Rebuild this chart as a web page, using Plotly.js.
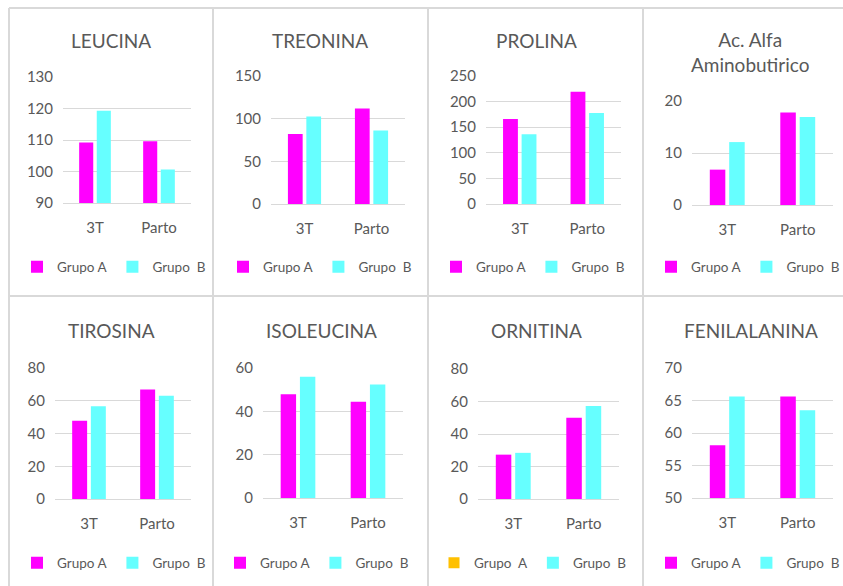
<!DOCTYPE html>
<html>
<head>
<meta charset="utf-8">
<script src="https://cdn.plot.ly/plotly-3.0.1.min.js"></script>
<style>html,body{margin:0;padding:0;background:#fff;}#chart{width:843px;height:586px;}</style>
</head>
<body>
<div id="chart"></div>
<script>
// ---- data ----
const categories = ["3T", "Parto"];
const panelTitles = ["LEUCINA", "TREONINA", "PROLINA", "Ac. Alfa<br>Aminobutirico",
                     "TIROSINA", "ISOLEUCINA", "ORNITINA", "FENILALANINA"];
const grupoA = {
  leucina: [109.2, 109.6],
  treonina: [82, 112],
  prolina: [166, 219],
  alfaAmino: [6.8, 17.8],
  tirosina: [47.8, 66.8],
  isoleucina: [47.9, 44.4],
  ornitina: [27.3, 50],
  fenilalanina: [58.1, 65.6]
};
const grupoB = {
  leucina: [119.3, 100.6],
  treonina: [102.5, 86],
  prolina: [136, 177.5],
  alfaAmino: [12.1, 16.9],
  tirosina: [56.6, 63.1],
  isoleucina: [56, 52.4],
  ornitina: [28.4, 57.3],
  fenilalanina: [65.6, 63.5]
};
const keys = ["leucina","treonina","prolina","alfaAmino","tirosina","isoleucina","ornitina","fenilalanina"];
const yRanges = [[90,130],[0,150],[0,250],[0,20],[0,80],[0,60],[0,80],[50,70]];
const yDticks = [10,50,50,10,20,20,20,5];
const nameA = "Grupo A";
const nameB = "Grupo\u00a0 B";
const nameAOrn = "Grupo\u00a0 A";

// ---- layout geometry (pixels) ----
const W = 843, H = 586;
const plotBoxes = [
  [63,191,77,203],[271,405,76,204],[486,621,76,204],[692,833,101,205],
  [55,191,368,499],[263,403,368,498],[478,619,369,499],[692,833,368,498]
];
const titlePos = [[111,40],[320,40],[536,40],[750,52],[111,330],[321,330],[536,330],[751,330]];
const legendPos = [[17,267],[223,267],[436,267],[651,267],[17,563],[220,563],[434,563],[651,563]];

const magenta = "#FF00FF", cyan = "#66FFFF", orange = "#FFC000";
const grey = "#595959", gridc = "#D9D9D9";
const fontFam = "Lato, 'Open Sans', sans-serif";

const traces = [];
const layout = {
  width: W, height: H,
  margin: {l:0,r:0,t:0,b:0, autoexpand: false},
  paper_bgcolor: "#FFFFFF", plot_bgcolor: "#FFFFFF",
  barmode: "group", bargap: 0.45, bargroupgap: 0.2,
  font: {family: fontFam, color: grey, size: 13},
  annotations: [], shapes: []
};

keys.forEach((k, i) => {
  const n = i + 1;
  const sx = n === 1 ? "" : String(n);
  const xa = "x" + sx, ya = "y" + sx;
  const lg = n === 1 ? "legend" : "legend" + n;
  const isOrn = k === "ornitina";
  traces.push({type:"bar", x: categories, y: grupoA[k], name: nameA,
    marker:{color: magenta}, xaxis: xa, yaxis: ya, legend: lg,
    showlegend: !isOrn, hoverinfo:"y"});
  if (isOrn) {
    // legend-only entry: the source chart shows an orange key for Grupo A here
    traces.push({type:"scatter", mode:"markers", x: categories, y: [null, null], name: nameAOrn,
      marker:{color: orange, symbol:"square", size: 11}, xaxis: xa, yaxis: ya, legend: lg,
      showlegend: true, hoverinfo:"skip"});
  }
  traces.push({type:"bar", x: categories, y: grupoB[k], name: nameB,
    marker:{color: cyan}, xaxis: xa, yaxis: ya, legend: lg, hoverinfo:"y"});

  const b = plotBoxes[i];
  layout["xaxis" + sx] = {
    domain: [b[0]/W, b[1]/W], anchor: ya, type: "category",
    showgrid: false, zeroline: false, showline: true, linecolor: gridc, linewidth: 1,
    ticks: "", tickfont: {size: 15, color: grey, family: fontFam}, ticklabelstandoff: 11,
    fixedrange: true
  };
  layout["yaxis" + sx] = {
    domain: [1 - b[3]/H, 1 - b[2]/H], anchor: xa,
    range: yRanges[i], dtick: yDticks[i], tick0: 0,
    showgrid: true, gridcolor: gridc, gridwidth: 1, zeroline: false, showline: false,
    ticks: "", tickfont: {size: 15, color: grey, family: fontFam}, ticklabelstandoff: 9,
    fixedrange: true
  };
  layout[lg] = {
    orientation: "h", x: legendPos[i][0]/W, y: 1 - legendPos[i][1]/H,
    xanchor: "left", yanchor: "middle", bgcolor: "rgba(0,0,0,0)",
    font: {size: 13.5, color: grey, family: fontFam}, itemwidth: 30, tracegroupgap: 0
  };
  layout.annotations.push({
    text: panelTitles[i], xref: "paper", yref: "paper",
    x: titlePos[i][0]/W, y: 1 - titlePos[i][1]/H, xanchor: "center", yanchor: "middle",
    showarrow: false, font: {size: 19, color: grey, family: fontFam}
  });
});

// panel frames
const vlines = [9, 213, 428, 643];
const hlines = [8, 296];
vlines.forEach(x => layout.shapes.push({type:"line", xref:"paper", yref:"paper",
  x0: x/W, x1: x/W, y0: 0, y1: 1 - 8/H, line:{color: gridc, width: 2}}));
hlines.forEach(y => layout.shapes.push({type:"line", xref:"paper", yref:"paper",
  x0: 9/W, x1: 1, y0: 1 - y/H, y1: 1 - y/H, line:{color: gridc, width: 2}}));

Plotly.newPlot("chart", traces, layout, {displayModeBar: false, staticPlot: true});
</script>
</body>
</html>
